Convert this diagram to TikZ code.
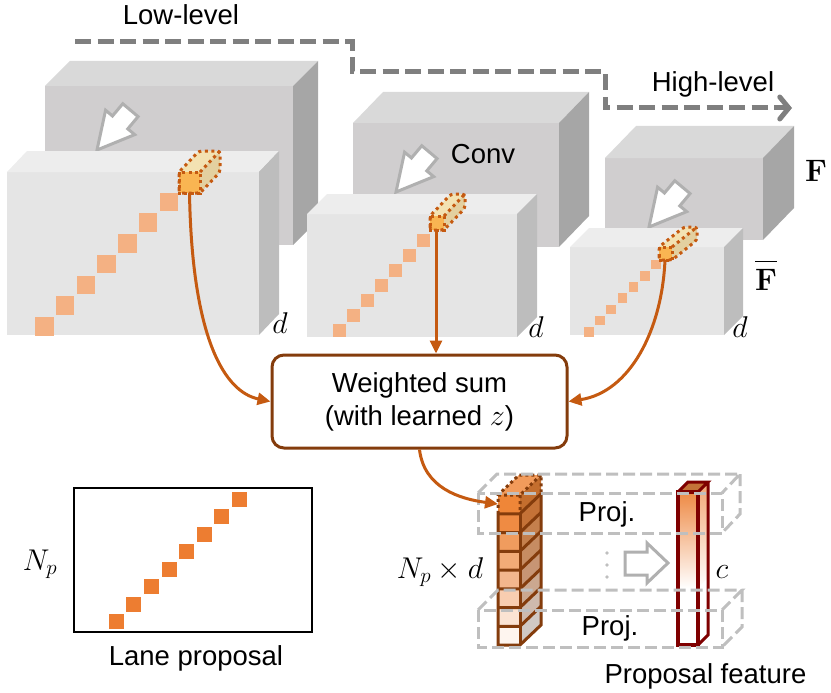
\RequirePackage{fix-cm}
\documentclass[tikz,border=0pt]{standalone}
\usepackage[no-math]{fontspec}
\setmainfont{Liberation Sans}
\usetikzlibrary{arrows.meta}
\definecolor{bkF}{HTML}{D0CECF}
\definecolor{bkT}{HTML}{D9D9D9}
\definecolor{bkS}{HTML}{A6A6A6}
\definecolor{frF}{HTML}{E5E5E5}
\definecolor{frT}{HTML}{EDEDED}
\definecolor{frS}{HTML}{BDBDBD}
\definecolor{sqc}{HTML}{F4B183}
\definecolor{hlF}{HTML}{F9B552}
\definecolor{hlT}{HTML}{F3E2B2}
\definecolor{hlS}{HTML}{E3D0A0}
\definecolor{rust}{HTML}{C55A11}
\definecolor{wsb}{HTML}{843C0C}
\definecolor{dred}{HTML}{7F0000}
\definecolor{dgray}{HTML}{7F7F7F}
\definecolor{lgray}{HTML}{BFBFBF}
\definecolor{agray}{HTML}{B0B0B0}
\definecolor{lanec}{HTML}{ED7D31}
\definecolor{ca}{HTML}{EF8638}
\definecolor{cb}{HTML}{EF8B43}
\definecolor{cc}{HTML}{F09C5E}
\definecolor{cd}{HTML}{F2AB77}
\definecolor{ce}{HTML}{F3B68D}
\definecolor{cf}{HTML}{F8CDB0}
\definecolor{cg}{HTML}{FBE3D3}
\definecolor{ch}{HTML}{FEF5EF}
\definecolor{colT}{HTML}{F29B5B}
\definecolor{redT}{HTML}{C47238}
\definecolor{redG}{HTML}{EE8A45}

\newcommand\boxthreed[9]{%
  \fill[#7] (#1,#2) rectangle (#3,#4);
  \fill[#8] (#1,#2) -- ({#1+#5},{#2-#6}) -- ({#3+#5},{#2-#6}) -- (#3,#2) -- cycle;
  \fill[#9] (#3,#2) -- ({#3+#5},{#2-#6}) -- ({#3+#5},{#4-#6}) -- (#3,#4) -- cycle;}

\newcommand\hlcube[5]{%
  \fill[hlT] (#1,#2) -- ({#1+#4},{#2-#5}) -- ({#1+#3+#4},{#2-#5}) -- ({#1+#3},#2) -- cycle;
  \fill[hlS] ({#1+#3},#2) -- ({#1+#3+#4},{#2-#5}) -- ({#1+#3+#4},{#2+#3-#5}) -- ({#1+#3},{#2+#3}) -- cycle;
  \fill[hlF] (#1,#2) rectangle ++(#3,#3);
  \draw[dotline, rounded corners=3pt] (#1,{#2+#3}) -- (#1,#2) -- ({#1+#4},{#2-#5}) -- ({#1+#3+#4},{#2-#5}) -- ({#1+#3+#4},{#2+#3-#5}) -- ({#1+#3},{#2+#3}) -- cycle;
  \draw[dotline] (#1,#2) rectangle ++(#3,#3);
  \draw[dotline] ({#1+#3},#2) -- ({#1+#3+#4},{#2-#5});}

\newcommand\hollowarrow[3]{%
  \begin{scope}[shift={(#1,#2)}, rotate=#3]
    \draw[agray, line width=3pt, fill=white] (0,0) -- (-36,-19) -- (-36,-10) -- (-52,-10) -- (-52,10) -- (-36,10) -- (-36,19) -- cycle;
  \end{scope}}

\tikzset{
  lbl/.style={font=\fontsize{27.5}{33}\selectfont, inner sep=0pt, anchor=base},
  mlbl/.style={font=\fontsize{30}{36}\selectfont, inner sep=0pt, anchor=base},
  dotline/.style={rust, line width=3pt, dash pattern=on 3pt off 3.5pt},
  conn/.style={rust, line width=3pt, -{Triangle[length=13pt,width=12pt]}},
  projdash/.style={lgray, line width=3pt, dash pattern=on 12pt off 5pt},
  colline/.style={wsb, line width=3pt},
}

\begin{document}
\begin{tikzpicture}[x=1pt,y=-1pt]
\useasboundingbox (0,0) rectangle (831,693);

% back feature maps (F)
\boxthreed{45}{86}{293}{245}{25}{25}{bkF}{bkT}{bkS}
\boxthreed{353}{123}{559}{247}{30}{31}{bkF}{bkT}{bkS}
\boxthreed{605}{158}{763}{240}{31}{32}{bkF}{bkT}{bkS}

% conv arrows
\hollowarrow{97}{150}{230}
\hollowarrow{396}{192}{230}
\hollowarrow{649}{227}{230}

% front feature maps (F bar)
\boxthreed{7}{172}{259}{335}{20}{21}{frF}{frT}{frS}
\boxthreed{307}{214}{517}{337}{20}{20}{frF}{frT}{frS}
\boxthreed{570}{247}{724}{335}{19}{19}{frF}{frT}{frS}

% lane squares on maps
\foreach \i in {0,...,6} \fill[sqc] ({35+20.75*\i},{317-20.75*\i}) rectangle ++(18.5,18.5);
\foreach \i in {0,...,6} \fill[sqc] ({333+14*\i},{324-15*\i}) rectangle ++(12.5,12.5);
\foreach \i in {0,...,6} \fill[sqc] ({584+11.2*\i},{327-11.2*\i}) rectangle ++(9.5,9.5);

\hlcube{179}{172}{21}{20}{21}
\hlcube{430}{216}{14}{21}{22}
\hlcube{659}{247}{13}{25}{20}

% texts
\node[lbl] (low) at (181,25) {Low-level};
\node[lbl] (high) at (713,92) {High-level};
\node[lbl] (conv) at (483,163) {Conv};
\node[mlbl] (d1) at (280,333) {$d$};
\node[mlbl] (d2) at (536,337) {$d$};
\node[mlbl] (d3) at (740,337) {$d$};
\node[mlbl, font=\fontsize{31}{36}\selectfont] (F) at (816,182) {$\mathbf{F}$};
\node[mlbl, font=\fontsize{31}{36}\selectfont] (Fb) at (766,290) {$\overline{\mathbf{F}\rule{0pt}{27pt}}$};

% dashed level path
\coordinate (lowstart) at (75,42);
\coordinate (highend) at (792,108);
\draw[dgray, line width=5pt, dash pattern=on 16pt off 6.5pt, -{Straight Barb[length=9pt,width=22pt,line cap=round]}]
  (lowstart) -- (352,42) -- (352,72) -- (605,72) -- (605,108) -- (highend);

% weighted sum
\node[draw=wsb, line width=3pt, rounded corners=12pt, minimum width=295pt, minimum height=93pt, align=center,
      font=\fontsize{27.5}{33}\selectfont, inner sep=0pt] (ws) at (419.5,401.5)
      {Weighted sum\\(with learned {\fontsize{30}{33}\selectfont$z$})};

\coordinate (h1) at (189.5,193);
\coordinate (h2) at (436,230);
\coordinate (h3) at (665,260);
\draw[conn] (h1) .. controls (192,340) and (225,392) .. (ws.west);
\draw[conn] (h2) -- (h2 |- ws.north);
\draw[conn] (h3) .. controls (662,330) and (630,392) .. (ws.east);

% orange column (N_p x d)
\foreach \k/\c in {0/ca,1/cb,2/cc,3/cd,4/ce,5/cf,6/cg,7/ch} {
  \fill[\c] (498,{495+18.75*\k}) rectangle (520,{513.75+18.75*\k});
  \fill[\c!82!black] (520,{495+18.75*\k}) -- (541,{475+18.75*\k}) -- (541,{493.75+18.75*\k}) -- (520,{513.75+18.75*\k}) -- cycle;
}
\fill[colT] (498,495) -- (519,475) -- (541,475) -- (520,495) -- cycle;
\draw[colline] (498,513.75) -- (498,645) -- (520,645) -- (541,625) -- (541,493.75);
\draw[colline] (520,513.75) -- (520,645);
\foreach \k in {1,...,7} {
  \draw[colline] (498,{495+18.75*\k}) -- (520,{495+18.75*\k}) -- (541,{475+18.75*\k});
}
\draw[wsb, line width=3pt, dash pattern=on 3pt off 3pt] (498,513.75) -- (498,495) -- (519,475) -- (541,475) -- (541,493.75) (498,495) -- (520,495) -- (541,475) (520,495) -- (520,513.75);

% red column (proposal feature)
\shade[top color=redG, bottom color=white] (678,492) rectangle (698,588);
\fill[white] (678,588) rectangle (698,645);
\shade[top color=redG!75, bottom color=white] (698,492) -- (708,482) -- (708,578) -- (698,588) -- cycle;
\fill[white] (698,588) -- (708,578) -- (708,635) -- (698,645) -- cycle;
\fill[redT] (678,492) -- (688,482) -- (708,482) -- (698,492) -- cycle;
\draw[dred, line width=3.5pt, line join=miter] (678,492) rectangle (698,645);
\draw[dred, line width=3pt] (678,492) -- (688,482) -- (708,482) -- (698,492) (708,482) -- (708,635) -- (698,645);

% projection boxes
\draw[projdash] (478,493) rectangle (722,533);
\draw[projdash] (478,493) -- (497,474) -- (740,474) -- (722,493) (740,474) -- (740,514) -- (722,533);
\draw[projdash] (478,610) rectangle (722,647);
\draw[projdash] (478,610) -- (498,590) -- (742,590) -- (722,610) (742,590) -- (742,627) -- (722,647);

\node[lbl] (p1) at (607,521) {Proj.};
\node[lbl] (p2) at (610,635) {Proj.};
\foreach \yy in {553,565,577} \fill[lgray] (607,\yy) circle (1.8);
\draw[agray, line width=3pt, fill=white] (668,563) -- (647,543) -- (647,552) -- (625,552) -- (625,575) -- (647,575) -- (647,583) -- cycle;

\coordinate (colin) at (498,504);
\draw[conn] (ws.south) .. controls (424,488) and (460,499) .. (colin);

\node[mlbl] (npd) at (440,578) {$N_p\times d$};
\node[mlbl] (cl) at (722,578) {$c$};
\node[lbl] (pf) at (705.5,683) {Proposal feature};

% lane proposal
\node[draw=black, line width=2.5pt, minimum width=238pt, minimum height=144pt, inner sep=0pt] (lp) at (193,560) {};
\foreach \i in {0,...,7} \fill[lanec, draw=white, line width=0.6pt] ({108+17.6*\i},{613.3-17.5*\i}) rectangle ++(16,16);
\node[mlbl] (np) at (40,570) {$N_p$};
\node[lbl] (lpt) at (196,665) {Lane proposal};
\end{tikzpicture}
\end{document}
